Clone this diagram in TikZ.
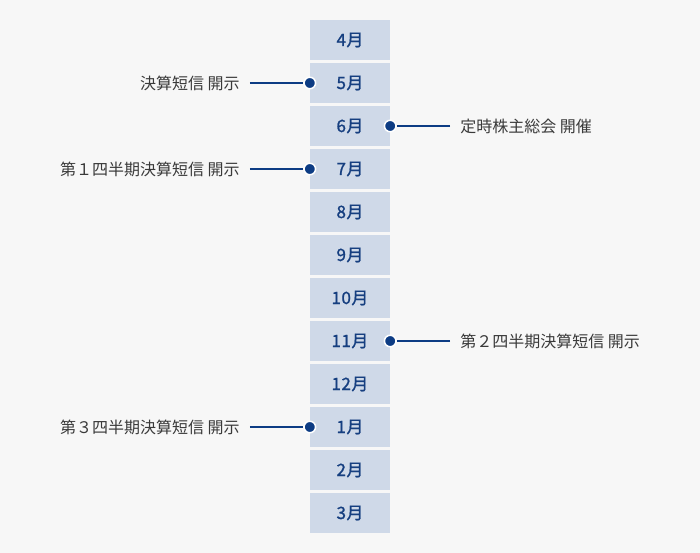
\documentclass[tikz,border=0pt]{standalone}
\usepackage{fontspec}
\setmainfont{Noto Sans CJK JP}
\newfontfamily\monthfont{Noto Sans CJK JP}[FakeBold=1.2, LetterSpace=3]
\definecolor{bgray}{HTML}{F7F7F7}
\definecolor{mbox}{HTML}{CFD9E8}
\definecolor{navy}{HTML}{0D3C84}
\definecolor{mtext}{HTML}{163F80}
\definecolor{txt}{HTML}{3A3A3A}

\begin{document}
\begin{tikzpicture}[
    x=1pt, y=-1pt,
    month/.style={fill=mbox, minimum width=80pt, minimum height=40pt, inner sep=0pt, text=mtext, font=\monthfont\fontsize{17}{17}\selectfont},
    dot/.style={circle, fill=navy, draw=white, line width=1.5pt, inner sep=0pt, minimum size=11.5pt},
    note/.style={text=txt, inner xsep=10pt, inner ysep=0pt, font=\fontsize{16}{17}\selectfont},
    link/.style={draw=navy, line width=1.8pt}
]
    % 背景
    \fill[bgray] (0,0) rectangle (700,553);

    % 月の箱 (4月〜3月)
    \foreach \m [count=\i] in {4,5,6,7,8,9,10,11,12,1,2,3}
        \node[month] (m\i) at (350, {40+43*(\i-1)}) {\raisebox{-1pt}{\m 月}};

    % 点
    \node[dot] (d5) at (m2.west) {};   % 5月
    \node[dot] (d6) at (m3.east) {};   % 6月
    \node[dot] (d7) at (m4.west) {};   % 7月
    \node[dot] (d11) at (m8.east) {};  % 11月
    \node[dot] (d1) at (m10.west) {};  % 1月

    % 説明
    \node[note, anchor=east, xshift=-60pt] (n5) at (m2.west) {決算短信 開示};
    \node[note, anchor=west, xshift=60pt] (n6) at (m3.east) {定時株主総会 開催};
    \node[note, anchor=east, xshift=-60pt] (n7) at (m4.west) {第１四半期決算短信 開示};
    \node[note, anchor=west, xshift=60pt] (n11) at (m8.east) {第２四半期決算短信 開示};
    \node[note, anchor=east, xshift=-60pt] (n1) at (m10.west) {第３四半期決算短信 開示};

    % 線
    \draw[link] (n5) -- (d5);
    \draw[link] (n6) -- (d6);
    \draw[link] (n7) -- (d7);
    \draw[link] (n11) -- (d11);
    \draw[link] (n1) -- (d1);
\end{tikzpicture}
\end{document}
